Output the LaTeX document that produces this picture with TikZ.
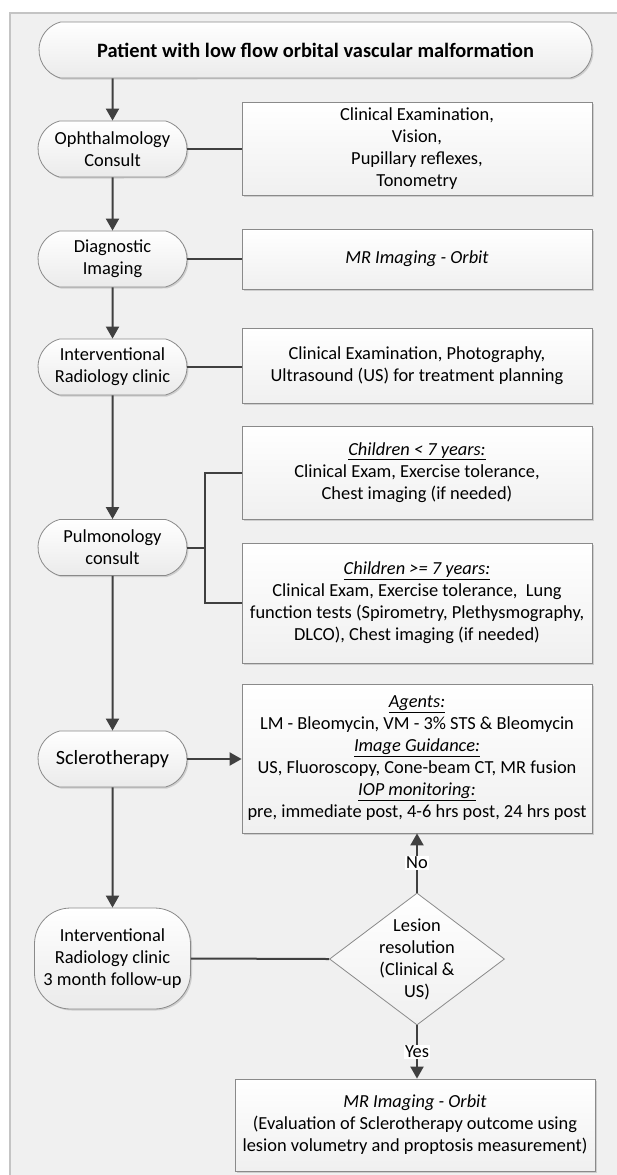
\documentclass[tikz,border=0pt]{standalone}
\usepackage{fontspec}
\setmainfont{Carlito}
\usetikzlibrary{arrows.meta,shapes.geometric,shapes.misc,shadows}

\definecolor{bgfill}{HTML}{F0F0F0}
\definecolor{framegray}{HTML}{C4C4C4}
\definecolor{edgegray}{HTML}{8A8A8A}
\definecolor{linegray}{HTML}{404040}

\def\chartfont{\fontsize{18.4}{22}\selectfont}

\tikzset{
	every node/.style={font=\chartfont, text=black},
	stepnode/.style={rounded rectangle, rounded rectangle arc length=150,
		draw=edgegray, line width=0.8pt, top color=white, bottom color=gray!16,
		drop shadow={shadow xshift=1.5pt, shadow yshift=-1.5pt, opacity=0.3},
		minimum width=149pt, minimum height=56pt, inner sep=0pt, align=center},
	infobox/.style={rectangle, draw=edgegray, line width=0.8pt,
		top color=white, bottom color=gray!12,
		drop shadow={shadow xshift=1.5pt, shadow yshift=-1.5pt, opacity=0.3},
		minimum width=350pt, inner sep=0pt, align=center},
	decision/.style={diamond, draw=edgegray, line width=0.8pt,
		top color=white, bottom color=gray!12,
		minimum width=175pt, minimum height=132pt, inner sep=-10pt, align=center},
	conn/.style={draw=linegray, line width=2pt},
	arr/.style={conn, -{Triangle[width=13pt,length=12pt]}},
	answer/.style={fill=white, inner sep=1pt},
}

\begin{document}
\begin{tikzpicture}[x=1pt, y=-1pt]

	% ---- parameters

	\def\leftx{112.5}
	\def\rightx{417}

	% ---- page and frame

	\useasboundingbox (0,0) rectangle (617,1175);
	\fill[bgfill] (10,13) rectangle (617,1175);
	\draw[framegray, line width=1.5pt] (10,1175) -- (10,13) -- (617,13);

	% ---- main steps

	\node[stepnode, minimum width=553pt, font=\fontsize{20.4}{24}\selectfont\bfseries]
		(start) at (315.5,50) {Patient with low flow orbital vascular malformation};

	\node[stepnode] (ophth)  at (\leftx,149) {Ophthalmology\\Consult};
	\node[stepnode] (diag)   at (\leftx,259) {Diagnostic\\Imaging};
	\node[stepnode] (irc)    at (\leftx,367) {Interventional\\Radiology clinic};
	\node[stepnode] (pulm)   at (\leftx,547.5) {Pulmonology\\consult};
	\node[stepnode, font=\fontsize{20.2}{24}\selectfont] (sclero) at (\leftx,759)
		{Sclerotherapy};
	\node[stepnode, rectangle, rounded corners=36pt, minimum width=156pt,
		minimum height=101pt] (follow) at (\leftx,958.5)
		{Interventional\\Radiology clinic\\3 month follow-up};

	% ---- detail boxes

	\node[infobox, minimum height=93pt] (exam) at (\rightx,148.5)
		{Clinical Examination,\\Vision,\\Pupillary reflexes,\\Tonometry};
	\node[infobox, minimum height=60pt] (mri) at (\rightx,259)
		{\textit{MR Imaging - Orbit}};
	\node[infobox, minimum height=75pt] (plan) at (\rightx,365.5)
		{Clinical Examination, Photography,\\Ultrasound (US) for treatment planning};
	\node[infobox, minimum height=93pt] (young) at (\rightx,472.5)
		{\underline{\textit{Children < 7 years:}}\\Clinical Exam, Exercise tolerance,\\Chest imaging (if needed)};
	\node[infobox, minimum height=120pt] (older) at (\rightx,603)
		{\underline{\textit{Children >= 7 years:}}\\Clinical Exam, Exercise tolerance,\ \ Lung\\function tests (Spirometry, Plethysmography,\\DLCO), Chest imaging (if needed)};
	\node[infobox, minimum height=149pt] (treat) at (\rightx,758.5)
		{\underline{\textit{Agents:}}\\LM - Bleomycin, VM - 3\% STS \& Bleomycin\\\underline{\textit{Image Guidance:}}\\US, Fluoroscopy, Cone-beam CT, MR fusion\\\underline{\textit{IOP monitoring:}}\\pre, immediate post, 4-6 hrs post, 24 hrs post};

	\node[decision] (check) at (\rightx,959)
		{Lesion\\resolution\\(Clinical \&\\US)};

	\node[infobox, minimum width=360pt, minimum height=92pt] (outcome) at (415,1125)
		{\textit{MR Imaging - Orbit}\\(Evaluation of Sclerotherapy outcome using\\lesion volumetry and proptosis measurement)};

	% ---- main flow

	\draw[arr] (ophth.north |- start.south) -- (ophth);
	\draw[arr] (ophth) -- (diag);
	\draw[arr] (diag) -- (irc);
	\draw[arr] (irc) -- (pulm);
	\draw[arr] (pulm) -- (sclero);
	\draw[arr] (sclero) -- (follow);

	% ---- side links

	\draw[conn] (ophth.east) -- (ophth.east -| exam.west);
	\draw[conn] (diag.east) -- (diag.east -| mri.west);
	\draw[conn] (irc.east) -- (irc.east -| plan.west);

	\coordinate (fork) at (205,547.5);
	\draw[conn] (pulm.east) -- (fork);
	\draw[conn] (young.west) -| (fork) |- (older.west);

	\draw[arr] (sclero.east) -- (sclero.east -| treat.west);
	\draw[conn] (follow.east) -- (check.west);

	% ---- decision outcomes

	\draw[arr] (check.north) -- (check.north |- treat.south)
		node[answer, midway] {No};
	\draw[arr] (check.south) -- (check.south |- outcome.north)
		node[answer, midway] {Yes};

\end{tikzpicture}
\end{document}
